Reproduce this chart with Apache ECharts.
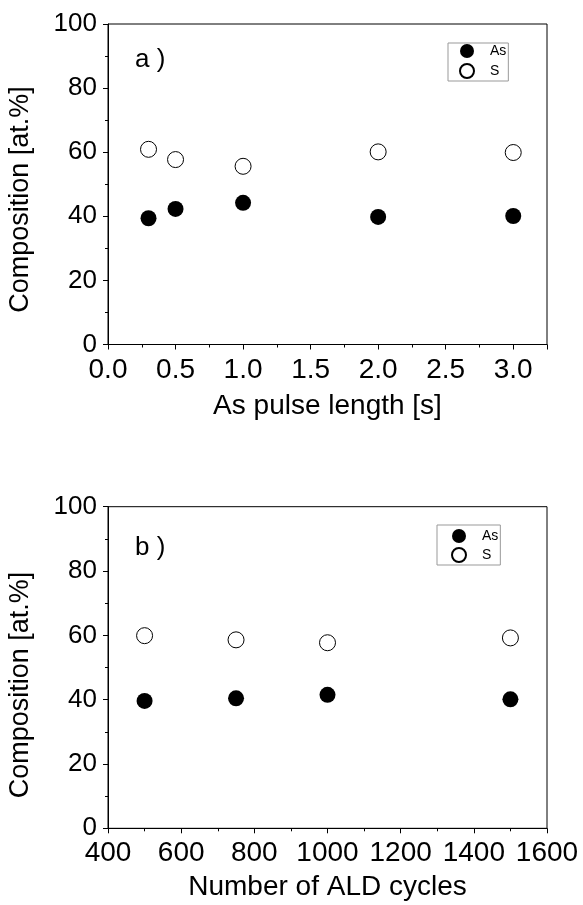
<!DOCTYPE html>
<html>
<head>
<meta charset="utf-8">
<script src="https://cdn.jsdelivr.net/npm/echarts@6/dist/echarts.min.js"></script>
<style>html,body{margin:0;padding:0;background:#fff}#chart{width:583px;height:905px}</style>
</head>
<body>
<div id="chart"></div>
<script>
// ---- data ----
const pulseLengths = [0.3, 0.5, 1.0, 2.0, 3.0];
const asPulse = [39.4, 42.3, 44.2, 39.8, 40.1];
const sPulse = [60.9, 57.7, 55.6, 60.1, 59.9];
const aldCycles = [500, 750, 1000, 1500];
const asCycles = [39.6, 40.4, 41.5, 40.1];
const sCycles = [59.9, 58.6, 57.7, 59.2];
const seriesNames = ['As', 'S'];
const panelLabels = ['a )', 'b )'];
const xNames = ['As pulse length [s]', 'Number of ALD cycles'];
const yName = 'Composition [at.%]';

const FONT = '"Liberation Sans", Arial, Helvetica, sans-serif';
const chart = echarts.init(document.getElementById('chart'), null, {renderer: 'canvas'});

function pairs(xs, ys) { return xs.map((x, i) => [x, ys[i]]); }

const axisCommon = {
  axisLine: {show: true, onZero: false, lineStyle: {color: '#000', width: 1}},
  axisTick: {show: true, inside: false, length: 5, lineStyle: {color: '#000'}},
  minorTick: {show: true, splitNumber: 2, length: 3, lineStyle: {color: '#000'}},
  splitLine: {show: false},
  minorSplitLine: {show: false},
  axisLabel: {color: '#000', fontSize: 26, fontFamily: FONT},
  nameTextStyle: {color: '#000', fontSize: 28, fontFamily: FONT}
};

const filled = {color: '#000', opacity: 1};
const open = {color: '#fff', borderColor: '#000', borderWidth: 1, opacity: 1};

const legendCommon = {
  orient: 'vertical',
  data: seriesNames,
  borderColor: '#999',
  borderWidth: 1,
  borderRadius: 0,
  itemWidth: 36,
  itemHeight: 14,
  itemGap: 5,
  selectedMode: false,
  textStyle: {fontSize: 14, color: '#000', fontFamily: FONT}
};

const option = {
  backgroundColor: '#fff',
  animation: false,
  grid: [
    {left: 108, top: 24, width: 439, height: 320.5, show: true, borderColor: '#000', borderWidth: 1, containLabel: false},
    {left: 108, top: 506.7, width: 439, height: 321.6, show: true, borderColor: '#000', borderWidth: 1, containLabel: false}
  ],
  xAxis: [
    Object.assign({}, axisCommon, {
      type: 'value', gridIndex: 0, min: 0, max: 3.25, interval: 0.5,
      name: xNames[0], nameLocation: 'middle', nameGap: 48,
      axisLabel: Object.assign({}, axisCommon.axisLabel, {fontSize: 28, margin: 12, showMaxLabel: false,
        formatter: v => v.toFixed(1)})
    }),
    Object.assign({}, axisCommon, {
      type: 'value', gridIndex: 1, min: 400, max: 1600, interval: 200,
      name: xNames[1], nameLocation: 'middle', nameGap: 45,
      axisLabel: Object.assign({}, axisCommon.axisLabel, {fontSize: 28, margin: 11,
        formatter: v => String(v)})
    })
  ],
  yAxis: [
    Object.assign({}, axisCommon, {
      type: 'value', gridIndex: 0, min: 0, max: 100, interval: 20,
      axisLabel: Object.assign({}, axisCommon.axisLabel, {margin: 11})
    }),
    Object.assign({}, axisCommon, {
      type: 'value', gridIndex: 1, min: 0, max: 100, interval: 20,
      axisLabel: Object.assign({}, axisCommon.axisLabel, {margin: 11})
    })
  ],
  legend: [
    Object.assign({}, legendCommon, {left: 448, top: 43, padding: [1, 2, 2, 11]}),
    Object.assign({}, legendCommon, {left: 437, top: 525, padding: [4, 2, 2, 14], itemGap: 4})
  ],
  graphic: [
    {type: 'text', x: 135, y: 59.5, style: {text: panelLabels[0], font: '26px ' + FONT, fill: '#000', textAlign: 'left', textVerticalAlign: 'middle'}},
    {type: 'text', x: 135, y: 548, style: {text: panelLabels[1], font: '26px ' + FONT, fill: '#000', textAlign: 'left', textVerticalAlign: 'middle'}},
    {type: 'text', x: 21, y: 199.5, rotation: Math.PI / 2, style: {text: yName, font: '27px ' + FONT, fill: '#000', textAlign: 'center', textVerticalAlign: 'middle'}},
    {type: 'text', x: 21, y: 685, rotation: Math.PI / 2, style: {text: yName, font: '27px ' + FONT, fill: '#000', textAlign: 'center', textVerticalAlign: 'middle'}}
  ],
  series: [
    {name: seriesNames[0], type: 'scatter', xAxisIndex: 0, yAxisIndex: 0, symbol: 'circle', symbolSize: 16, itemStyle: filled, data: pairs(pulseLengths, asPulse)},
    {name: seriesNames[1], type: 'scatter', xAxisIndex: 0, yAxisIndex: 0, symbol: 'circle', symbolSize: 16, itemStyle: open, data: pairs(pulseLengths, sPulse)},
    {name: seriesNames[0], type: 'scatter', xAxisIndex: 1, yAxisIndex: 1, symbol: 'circle', symbolSize: 16, itemStyle: filled, data: pairs(aldCycles, asCycles)},
    {name: seriesNames[1], type: 'scatter', xAxisIndex: 1, yAxisIndex: 1, symbol: 'circle', symbolSize: 16, itemStyle: open, data: pairs(aldCycles, sCycles)}
  ]
};
chart.setOption(option);
</script>
</body>
</html>
